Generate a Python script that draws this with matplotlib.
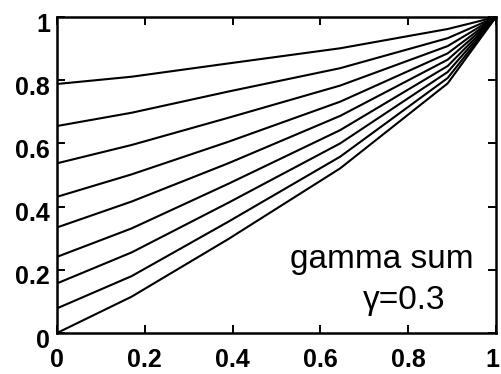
#gamma sum curves, gamma = 0.3
import numpy as np
import matplotlib
matplotlib.use('Agg')
import matplotlib.pyplot as plt
import matplotlib.transforms as mtransforms

x_pts = [0, 0.17, 0.39, 0.645, 0.89, 1]

# one list per curve, from top to bottom
curve_1 = [0.788, 0.811, 0.853, 0.901, 0.962, 1]
curve_2 = [0.655, 0.697, 0.764, 0.838, 0.933, 1]
curve_3 = [0.537, 0.595, 0.681, 0.783, 0.908, 1]
curve_4 = [0.431, 0.502, 0.605, 0.732, 0.885, 1]
curve_5 = [0.334, 0.416, 0.537, 0.687, 0.865, 1]
curve_6 = [0.241, 0.331, 0.472, 0.642, 0.845, 1]
curve_7 = [0.157, 0.255, 0.412, 0.600, 0.826, 1]
curve_8 = [0.078, 0.180, 0.352, 0.558, 0.807, 1]
curve_9 = [0.000, 0.115, 0.297, 0.521, 0.790, 1]
curves = [curve_1, curve_2, curve_3, curve_4, curve_5, curve_6, curve_7, curve_8, curve_9]

tick_vals = [0, 0.2, 0.4, 0.6, 0.8, 1]
tick_labels = ['0', '0.2', '0.4', '0.6', '0.8', '1']

plt.rcParams['font.family'] = ['Liberation Sans', 'DejaVu Sans']

fig = plt.figure(figsize=(5.01, 3.74), dpi=100)
ax = fig.add_axes([57/501, 41/374, 439/501, 316/374])

for c in curves:
    ax.plot(x_pts, c, color='black', lw=1.5, solid_joinstyle='miter')

ax.set_xlim(0, 1)
ax.set_ylim(0, 1)
ax.set_xticks(tick_vals)
ax.set_xticklabels(tick_labels)
ax.set_yticks(tick_vals)
ax.set_yticklabels(tick_labels)
ax.tick_params(direction='in', length=6, width=1.4, top=True, right=True,
               labelsize=18)
ax.tick_params(axis='x', pad=11)
ax.tick_params(axis='y', pad=5)
for lab in ax.get_xticklabels() + ax.get_yticklabels():
    lab.set_fontweight('bold')
# last x label would hang off the right edge
ax.get_xticklabels()[-1].set_ha('right')
ax.get_xticklabels()[-1].set_transform(
    ax.get_xticklabels()[-1].get_transform()
    + mtransforms.ScaledTranslation(3/100, 0, fig.dpi_scale_trans))
# old plot: y labels sit a bit below their ticks
offset = mtransforms.ScaledTranslation(0, -5/100, fig.dpi_scale_trans)
for lab in ax.get_yticklabels():
    lab.set_transform(lab.get_transform() + offset)
for sp in ax.spines.values():
    sp.set_linewidth(1.8)

ax.text(0.95, 0.205, 'gamma sum', fontsize=24, ha='right', va='baseline',
        transform=ax.transAxes)
ax.text(0.885, 0.075, 'γ=0.3', fontsize=24, ha='right', va='baseline',
        transform=ax.transAxes)

fig.savefig('out.png', dpi=100)
